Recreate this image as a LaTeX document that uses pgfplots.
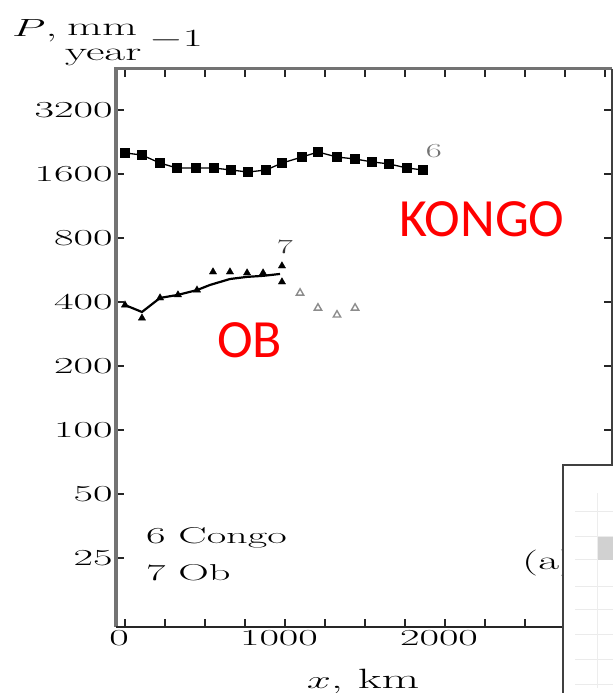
\documentclass[border=0pt]{standalone}
\usepackage{graphicx}
\usepackage{pgfplots}
\pgfplotsset{compat=1.18}
\usepackage{fontspec}
\newfontfamily\redsans{Carlito}
% wide setting of the lettering, as in the printed figure
\newcommand\W[1]{\scalebox{1.85}[1]{#1}}
\newcommand\Wl[1]{\scalebox{1.75}[1]{#1}}

\begin{document}
\begin{tikzpicture}
\useasboundingbox (0bp,0bp) rectangle (613bp,693bp);
\begin{axis}[
  at={(116bp,66bp)}, anchor=south west,
  scale only axis, width=496bp, height=558bp,
  clip=false,
  xmin=-56.25, xmax=3043.75,
  ymode=log, log basis y=2, ymin=11.84, ymax=4989,
  xtick={0,1000,2000,3000},
  xticklabels={\W{0},\W{1000},\W{2000},{}},
  minor xtick={250,500,750,1250,1500,1750,2250,2500,2750},
  ytick={25,50,100,200,400,800,1600,3200},
  yticklabels={\W{25},\W{50},\W{100},\W{200},\W{400},\W{800},\W{1600},\W{3200}},
  tick align=inside,
  major tick length=8bp, minor tick length=8bp,
  ytick style={line width=1.6bp, black!85},
  xtick style={line width=1.6bp, black!85},
  tick label style={font=\fontsize{23}{25}\selectfont},
  xticklabel style={xshift=-6bp},
  axis line style={draw=none},
]
% frame
\draw[black!55, line width=3bp] (rel axis cs:0,0) -- (rel axis cs:0,1) -- (rel axis cs:1,1);
\draw[black!85, line width=1.8bp] (rel axis cs:0,0) -- (rel axis cs:1,0);
\draw[black!75, line width=1.2bp] (rel axis cs:1,1) -- (rel axis cs:1,0);

% 6 Congo
\addplot[black, line width=1.3bp, mark=square*, mark size=4bp] coordinates {
(0,2010) (106,1965) (219,1801) (325,1707) (444,1707) (556,1707)
(663,1671) (769,1634) (881,1671) (981,1801) (1106,1923) (1206,2030)
(1325,1923) (1438,1882) (1544,1824) (1650,1784) (1763,1707) (1863,1671)
};
% 7 Ob, mean line
\addplot[black, line width=2.2bp, mark=none] coordinates {
(0,387) (106,359) (219,418) (331,432) (450,455) (531,481)
(656,513) (763,525) (863,531) (969,542)
};
% 7 Ob, stations
\addplot[black, only marks, mark=triangle*, mark size=4.2bp] coordinates {
(0,387) (106,336) (219,418) (331,432) (450,455) (550,554)
(656,554) (763,548) (863,548) (981,591) (981,497)
};
% 7 Ob, further downstream
\addplot[black!45, only marks, mark=triangle, mark size=4.2bp, line width=1.4bp] coordinates {
(1094,441) (1206,375) (1325,348) (1438,375)
};

\node[black!55, font=\fontsize{20}{22}\selectfont, anchor=center] at (axis cs:1930,2050) {\Wl{6}};
\node[black!80, font=\fontsize{20}{22}\selectfont, anchor=center] at (axis cs:1000,730) {\Wl{7}};
\end{axis}

% axis labels
\node[anchor=base west, inner sep=0pt, font=\fontsize{28}{30}\selectfont] at (12bp,656bp) {\Wl{$P$,}};
\node[anchor=base west, inner sep=0pt, font=\fontsize{26}{28}\selectfont] at (67bp,657bp) {\Wl{mm}};
\node[anchor=base west, inner sep=0pt, font=\fontsize{26}{28}\selectfont] at (65bp,632bp) {\Wl{year}};
\node[anchor=base west, inner sep=0pt, font=\fontsize{24}{26}\selectfont] at (149bp,646bp) {\Wl{$-1$}};
\node[anchor=base, inner sep=0pt, font=\fontsize{28}{30}\selectfont] at (363bp,5bp) {\Wl{$x$, km}};

% key
\node[anchor=west, inner sep=0pt, font=\fontsize{23}{25}\selectfont] at (146bp,155bp) {\W{6 Congo}};
\node[anchor=west, inner sep=0pt, font=\fontsize{23}{25}\selectfont] at (146bp,120bp) {\W{7 Ob}};
\node[anchor=west, inner sep=0pt, font=\fontsize{26}{28}\selectfont] at (522bp,130bp) {\Wl{(a)}};

% river names
\node[anchor=base west, inner sep=0pt, text=red, font=\redsans\fontsize{54}{56}\selectfont] at (399bp,456bp) {KONGO};
\node[anchor=base west, inner sep=0pt, text=red, font=\redsans\fontsize{54}{56}\selectfont] at (217bp,335bp) {OB};

% neighbouring panel
\fill[white] (563bp,0bp) rectangle (613bp,228bp);
\foreach \yy in {8,33,58,83,106,133,156,181} {
  \draw[black!8, line width=1bp] (575bp,\yy bp) -- (613bp,\yy bp);
}
\draw[black!7, line width=1bp] (597bp,5bp) -- (597bp,200bp);
\fill[black!18] (598bp,133bp) rectangle (613bp,156bp);
\draw[black!75, line width=1.2bp] (563bp,0bp) -- (563bp,228bp) -- (613bp,228bp);
\end{tikzpicture}
\end{document}
